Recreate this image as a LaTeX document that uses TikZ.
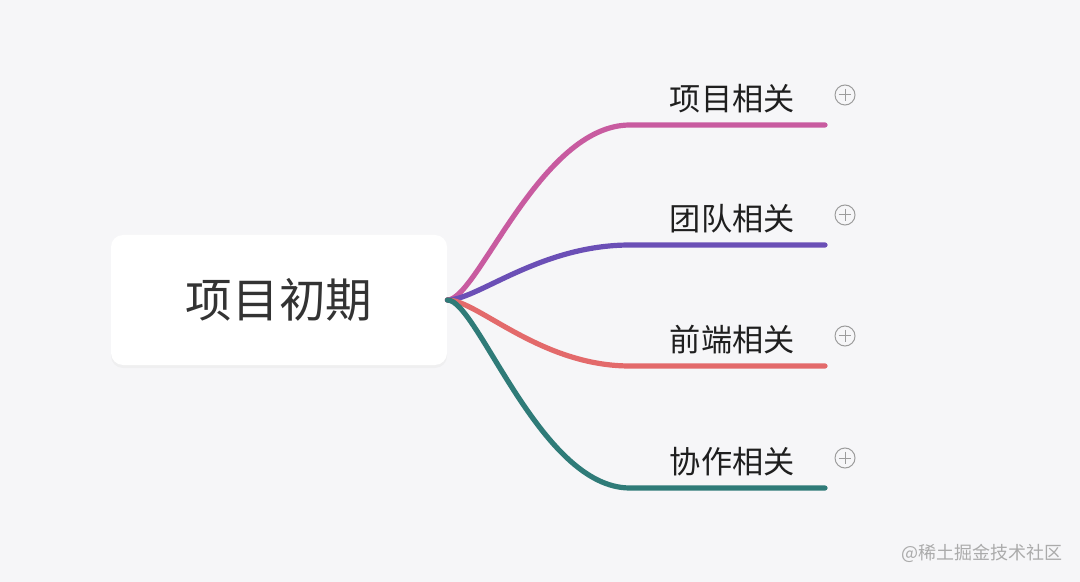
\documentclass[tikz,border=0pt]{standalone}
\usepackage{fontspec}
\setmainfont{Noto Sans CJK SC}
\usetikzlibrary{positioning,shadows}
\definecolor{Canvas}{HTML}{F6F6F8}
\definecolor{Ink}{HTML}{333333}
\definecolor{BranchPink}{HTML}{C85BA0}
\definecolor{BranchPurple}{HTML}{6B4FB6}
\definecolor{BranchCoral}{HTML}{E36A6B}
\definecolor{BranchTeal}{HTML}{2F7B78}
\definecolor{IconGrey}{HTML}{9C9C9C}
\definecolor{MarkGrey}{HTML}{ABABAB}

\begin{document}
\begin{tikzpicture}[x=0.5pt,y=-0.5pt]
        \fill[Canvas] (0,0) rectangle (1080,582);
        \useasboundingbox (0,0) rectangle (1080,582);
        \node[
          fill=white,
          rounded corners=6pt,
          minimum width=168pt,
          minimum height=65pt,
          drop shadow={opacity=0.06, shadow xshift=0pt, shadow yshift=-1.5pt},
          text=Ink,
          font=\fontsize{23.3}{28}\selectfont
        ] (root) at (279,300) {项目初期};
        \foreach \name/\y/\col/\txt in {one/125/BranchPink/项目相关,
            two/245/BranchPurple/团队相关,
            three/366/BranchCoral/前端相关,
            four/488/BranchTeal/协作相关} {
          \coordinate (bend\name) at (630,\y);
          \coordinate (end\name) at (825,\y);
          \draw[\col, line width=2.6pt, line cap=round]
            (root.east) .. controls +(30,0) and +(-90,0) .. (bend\name) -- (end\name);
          \node[anchor=east, inner sep=0pt, text=black!88,
            font=\fontsize{15.6}{20}\selectfont]
            (lab\name) at ([shift={(-30,-26)}]end\name) {\txt};
          \node[circle, draw=IconGrey, line width=0.5pt, minimum size=10pt, inner sep=0pt]
            (plus\name) at ([shift={(20,-30)}]end\name) {};
          \draw[IconGrey, line width=0.5pt]
            ([xshift=2.2pt]plus\name.west) -- ([xshift=-2.2pt]plus\name.east)
            ([yshift=-2.2pt]plus\name.north) -- ([yshift=2.2pt]plus\name.south);
        }
        \node[anchor=east, inner sep=0pt, text=MarkGrey,
          font=\fontsize{9}{12}\selectfont] (mark) at (1063,553) {@稀土掘金技术社区};
      \end{tikzpicture}
\end{document}
